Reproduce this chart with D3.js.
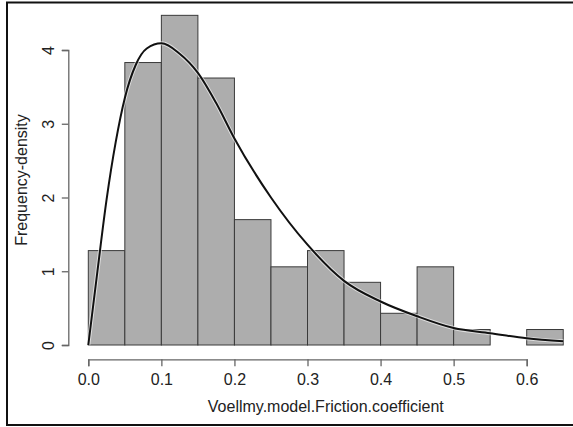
<!DOCTYPE html>
<html>
<head>
<meta charset="utf-8">
<script src="https://cdn.jsdelivr.net/npm/d3@7"></script>
<style>
  body { margin: 0; background: #fff; }
  svg text { font-family: "Liberation Sans", Arial, sans-serif; fill: #222; }
</style>
</head>
<body>
<svg width="573" height="427"></svg>
<script>
// histogram bins (left edges) and density heights
var binStarts = [0.00, 0.05, 0.10, 0.15, 0.20, 0.25, 0.30, 0.35, 0.40, 0.45, 0.50, 0.55, 0.60];
var binWidth = 0.05;
var densities = [1.28, 3.83, 4.47, 3.62, 1.70, 1.06, 1.28, 0.85, 0.43, 1.06, 0.21, 0.00, 0.21];

// fitted density curve
var curveX = [0, 0.0125, 0.025, 0.0375, 0.05, 0.065, 0.08, 0.1, 0.125, 0.15, 0.175, 0.2, 0.25, 0.3, 0.35, 0.4, 0.45, 0.5, 0.55, 0.6, 0.65];
var curveY = [0, 1.0, 1.97, 2.75, 3.35, 3.8, 4.02, 4.09, 3.95, 3.69, 3.28, 2.8, 2.0, 1.36, 0.87, 0.59, 0.39, 0.23, 0.16, 0.09, 0.05];

var xTicks = [0, 0.1, 0.2, 0.3, 0.4, 0.5, 0.6];
var yTicks = [0, 1, 2, 3, 4];

var svg = d3.select("svg");

var x = d3.scaleLinear().domain([0, 0.6]).range([88.3, 526.7]);
var y = d3.scaleLinear().domain([0, 4]).range([345, 50]);

// outer frame
svg.append("rect")
    .attr("x", 7).attr("y", 2.5)
    .attr("width", 580).attr("height", 422.5)
    .attr("fill", "none")
    .attr("stroke", "#111")
    .attr("stroke-width", 2);

// bars
svg.append("g").selectAll("rect")
    .data(binStarts)
    .enter().append("rect")
    .attr("x", function(d) { return x(d); })
    .attr("width", function(d) { return x(d + binWidth) - x(d); })
    .attr("y", function(d, i) { return y(densities[i]); })
    .attr("height", function(d, i) { return y(0) - y(densities[i]); })
    .attr("fill", "#adadad")
    .attr("stroke", "#3a3a3a")
    .attr("stroke-width", 1);

// density curve
var line = d3.line()
    .x(function(d, i) { return x(curveX[i]); })
    .y(function(d, i) { return y(curveY[i]); })
    .curve(d3.curveMonotoneX);

svg.append("path")
    .datum(curveX)
    .attr("fill", "none")
    .attr("stroke", "#fff")
    .attr("stroke-width", 4)
    .attr("opacity", 0.6)
    .attr("d", line);

svg.append("path")
    .datum(curveX)
    .attr("fill", "none")
    .attr("stroke", "#111")
    .attr("stroke-width", 2)
    .attr("d", line);

// x axis
var xAxis = d3.axisBottom(x)
    .tickValues(xTicks)
    .tickFormat(d3.format(".1f"))
    .tickSizeOuter(0)
    .tickSize(7)
    .tickPadding(7);

var gx = svg.append("g")
    .attr("transform", "translate(0,359.3)")
    .call(xAxis);
gx.selectAll("path, line").attr("stroke", "#666").attr("stroke-width", 1.3);
gx.selectAll("text").attr("font-size", 16).attr("font-family", "Liberation Sans, Arial, sans-serif").attr("fill", "#222");

// y axis
var yAxis = d3.axisLeft(y)
    .tickValues(yTicks)
    .tickFormat(d3.format("d"))
    .tickSizeOuter(0)
    .tickSize(6.5);

var gy = svg.append("g")
    .attr("transform", "translate(68.3,0)")
    .call(yAxis);
gy.selectAll("path, line").attr("stroke", "#666").attr("stroke-width", 1.3);
gy.selectAll("text")
    .attr("x", null).attr("dy", null)
    .attr("text-anchor", "middle")
    .attr("transform", "translate(-14.5,0) rotate(-90)")
    .attr("font-size", 16)
    .attr("font-family", "Liberation Sans, Arial, sans-serif")
    .attr("fill", "#222");

// axis titles
svg.append("text")
    .attr("x", 325.8).attr("y", 412)
    .attr("text-anchor", "middle")
    .attr("font-size", 16)
    .text("Voellmy.model.Friction.coefficient");

svg.append("text")
    .attr("transform", "translate(27,180) rotate(-90)")
    .attr("text-anchor", "middle")
    .attr("font-size", 16)
    .text("Frequency-density");
</script>
</body>
</html>
